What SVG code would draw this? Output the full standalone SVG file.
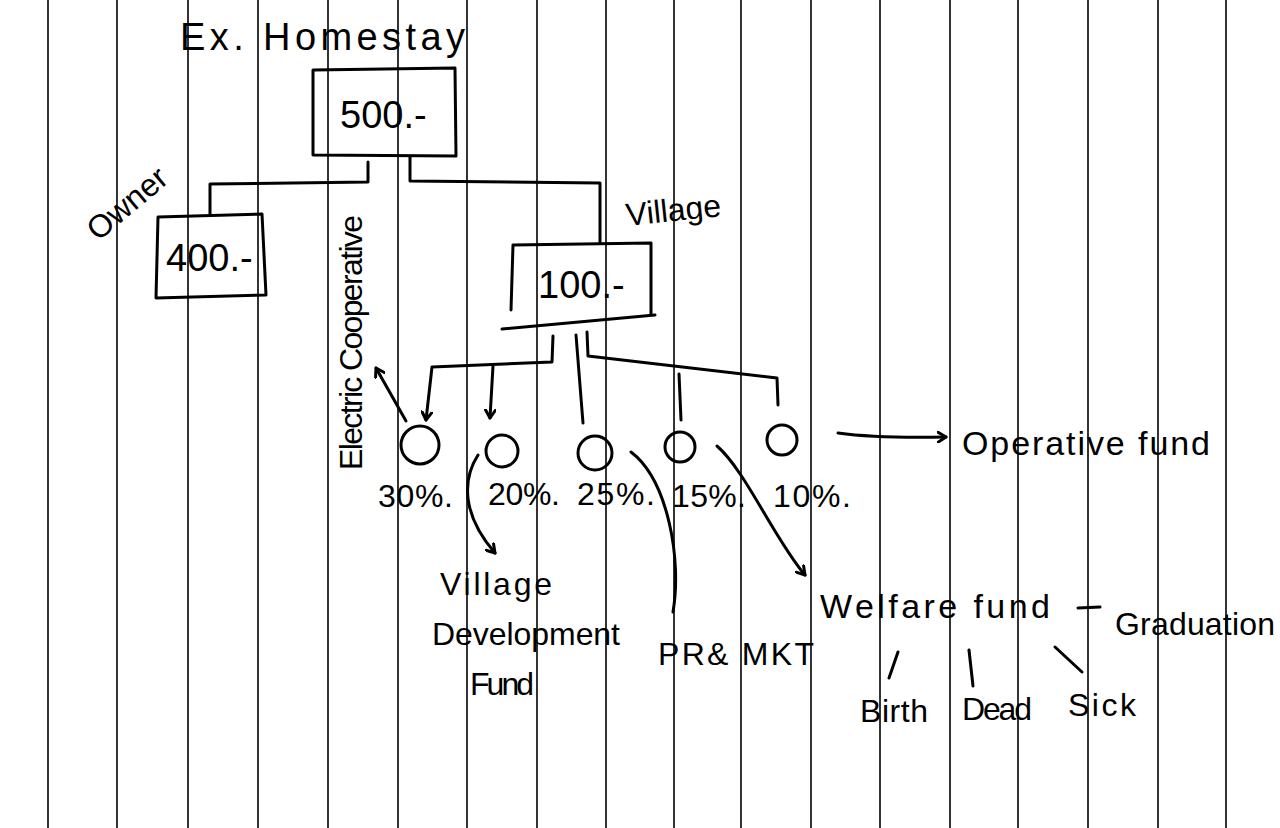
<svg xmlns="http://www.w3.org/2000/svg" width="1280" height="828" viewBox="0 0 1280 828">
<style>
.paper{stroke:#000;stroke-width:1.6}
.ink{fill:none;stroke:#000;stroke-width:3;stroke-linecap:round;stroke-linejoin:round}
.t{font-family:"Liberation Sans","DejaVu Sans",sans-serif;fill:#000}
.lbl{font-size:32px}
.big{font-size:38px}
</style>
<defs>
<marker id="ah" markerWidth="12" markerHeight="12" refX="9" refY="6" orient="auto" markerUnits="userSpaceOnUse">
<path d="M1,1 L9,6 L1,11" fill="none" stroke="#000" stroke-width="3" stroke-linecap="round" stroke-linejoin="round"/>
</marker>
</defs>
<rect width="1280" height="828" fill="#fff"/>
<g id="paper-lines" class="paper">
<line x1="48" y1="0" x2="48" y2="828"/><line x1="117" y1="0" x2="117" y2="828"/>
<line x1="188" y1="0" x2="188" y2="828"/><line x1="258" y1="0" x2="258" y2="828"/>
<line x1="328" y1="0" x2="328" y2="828"/><line x1="398" y1="0" x2="398" y2="828"/>
<line x1="467" y1="0" x2="467" y2="828"/><line x1="537" y1="0" x2="537" y2="828"/>
<line x1="606" y1="0" x2="606" y2="828"/><line x1="674" y1="0" x2="674" y2="828"/>
<line x1="741" y1="0" x2="741" y2="828"/><line x1="811" y1="0" x2="811" y2="828"/>
<line x1="880" y1="0" x2="880" y2="828"/><line x1="950" y1="0" x2="950" y2="828"/>
<line x1="1018" y1="0" x2="1018" y2="828"/><line x1="1088" y1="0" x2="1088" y2="828"/>
<line x1="1158" y1="0" x2="1158" y2="828"/><line x1="1226" y1="0" x2="1226" y2="828"/>
</g>
<g id="title"><text class="t big" x="180" y="50" font-size="42" textLength="285" lengthAdjust="spacing">Ex. Homestay</text></g>
<g id="node-500">
<path class="ink" d="M313,70 L455,68 L456,156 L313,155 Z"/>
<text class="t big" x="340" y="128">500.-</text>
</g>
<g id="node-400">
<path class="ink" d="M158,217 L262,214 L266,295 L156,298 Z"/>
<text class="t big" x="166" y="271">400.-</text>
<text class="t lbl" font-size="34" transform="translate(98,242) rotate(-40)">Owner</text>
</g>
<g id="node-100">
<path class="ink" d="M513,245 L651,243 L651,314 M513,245 L511,310 M502,329 L655,315"/>
<text class="t big" x="538" y="298">100.-</text>
<text class="t lbl" font-size="32" transform="translate(627,226) rotate(-6)">Village</text>
</g>
<g id="label-electric"><text class="t lbl" font-size="28" transform="translate(362,470) rotate(-90)" textLength="255" lengthAdjust="spacing">Electric Cooperative</text></g>
<g id="circles" class="ink">
<circle cx="420" cy="445" r="19"/><circle cx="502" cy="451" r="16"/>
<circle cx="595" cy="453" r="17"/><circle cx="680" cy="447" r="15"/>
<circle cx="782" cy="440" r="15"/>
</g>
<g id="percents" class="t lbl">
<text x="378" y="507" textLength="75" lengthAdjust="spacing">30%.</text>
<text x="488" y="505" textLength="72" lengthAdjust="spacing">20%.</text>
<text x="577" y="505" textLength="78" lengthAdjust="spacing">25%.</text>
<text x="672" y="507" textLength="74" lengthAdjust="spacing">15%.</text>
<text x="773" y="507" textLength="78" lengthAdjust="spacing">10%.</text>
</g>
<g id="targets" class="t lbl">
<text x="440" y="595" textLength="112" lengthAdjust="spacing">Village</text>
<text x="432" y="645" textLength="188" lengthAdjust="spacing">Development</text>
<text x="470" y="695" textLength="64" lengthAdjust="spacing">Fund</text>
<text x="658" y="665" textLength="156" lengthAdjust="spacing">PR&amp; MKT</text>
<text x="820" y="618" font-size="34" textLength="230" lengthAdjust="spacing">Welfare fund</text>
<text x="1115" y="635" textLength="160" lengthAdjust="spacing">Graduation</text>
<text x="962" y="455" font-size="34" textLength="248" lengthAdjust="spacing">Operative fund</text>
<text x="860" y="722" textLength="68" lengthAdjust="spacing">Birth</text>
<text x="962" y="720" textLength="70" lengthAdjust="spacing">Dead</text>
<text x="1068" y="716" textLength="68" lengthAdjust="spacing">Sick</text>
</g>
<g id="connectors" class="ink">
<path d="M368,162 L368,182 L210,184 L210,215"/>
<path d="M410,157 L410,181 L600,183 L600,243"/>
<path d="M553,336 L552,362 L432,367 L426,420" marker-end="url(#ah)"/>
<path d="M493,366 L490,418" marker-end="url(#ah)"/>
<path d="M576,335 L583,423"/>
<path d="M587,332 L588,356 L777,378 L778,405"/>
<path d="M681,420 L679,374"/>
<path d="M406,421 L376,368" marker-end="url(#ah)"/>
<path d="M478,455 C462,480 462,515 495,553" marker-end="url(#ah)"/>
<path d="M631,452 C668,480 682,560 673,612"/>
<path d="M717,446 C745,470 775,540 805,575" marker-end="url(#ah)"/>
<path d="M838,433 C860,436 900,438 946,437" marker-end="url(#ah)"/>
<path d="M1078,608 L1100,607"/>
<path d="M898,652 L889,678"/>
<path d="M969,650 L973,686"/>
<path d="M1055,647 L1082,672"/>
</g>
</svg>
